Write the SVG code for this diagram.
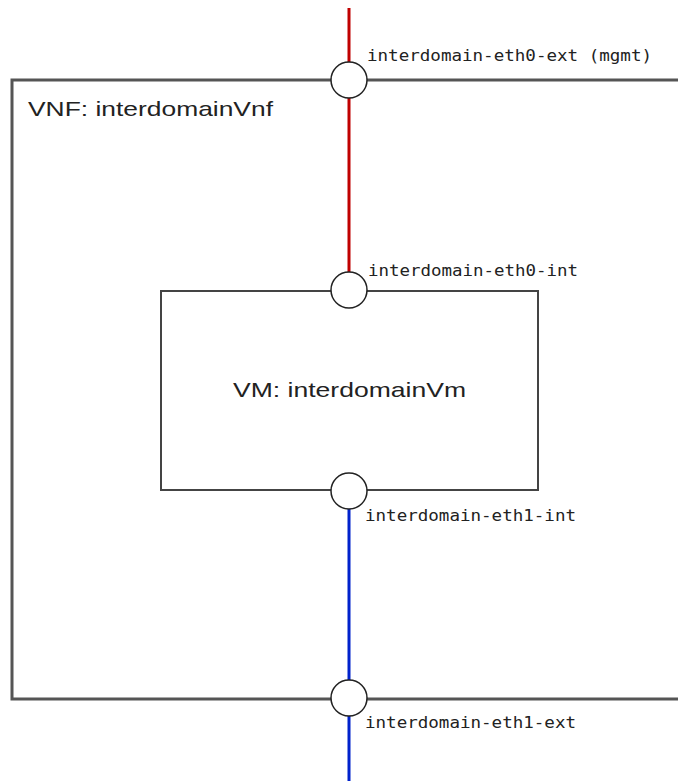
<svg xmlns="http://www.w3.org/2000/svg" width="678" height="781" viewBox="0 0 678 781">
<style>
.box{fill:none;stroke:#555;stroke-width:3}
.inner{fill:none;stroke:#444;stroke-width:2}
.port{fill:#fff;stroke:#222;stroke-width:1.5}
.plbl{font-family:"DejaVu Sans Mono","Liberation Mono",monospace;font-size:16px;fill:#222}
.title{font-family:"Liberation Sans",Arial,sans-serif;font-size:21px;fill:#222}
.red{stroke:#c00000;stroke-width:3;fill:none}
.blue{stroke:#0022cc;stroke-width:3;fill:none}
</style>
<rect width="678" height="781" fill="#fff"/>
<g id="connectors">
<line class="red" x1="349" y1="8" x2="349" y2="272"/>
<line class="blue" x1="349" y1="509" x2="349" y2="781"/>
</g>
<g id="vnf">
<path class="box" d="M690 80 H12 V699 H690"/>
<text class="title" x="28" y="116" textLength="245" lengthAdjust="spacingAndGlyphs">VNF: interdomainVnf</text>
</g>
<g id="vm">
<rect class="inner" x="161" y="291" width="377" height="199"/>
<text class="title" x="233" y="397" textLength="233" lengthAdjust="spacingAndGlyphs">VM: interdomainVm</text>
</g>
<g id="port-eth0-ext">
<circle class="port" cx="349" cy="80" r="18"/>
<text class="plbl" x="367" y="61" textLength="285" lengthAdjust="spacingAndGlyphs">interdomain-eth0-ext (mgmt)</text>
</g>
<g id="port-eth0-int">
<circle class="port" cx="349" cy="290" r="18"/>
<text class="plbl" x="368" y="276" textLength="210" lengthAdjust="spacingAndGlyphs">interdomain-eth0-int</text>
</g>
<g id="port-eth1-int">
<circle class="port" cx="349" cy="491" r="18"/>
<text class="plbl" x="365" y="521" textLength="211" lengthAdjust="spacingAndGlyphs">interdomain-eth1-int</text>
</g>
<g id="port-eth1-ext">
<circle class="port" cx="349" cy="698" r="18"/>
<text class="plbl" x="365" y="728" textLength="211" lengthAdjust="spacingAndGlyphs">interdomain-eth1-ext</text>
</g>
</svg>
